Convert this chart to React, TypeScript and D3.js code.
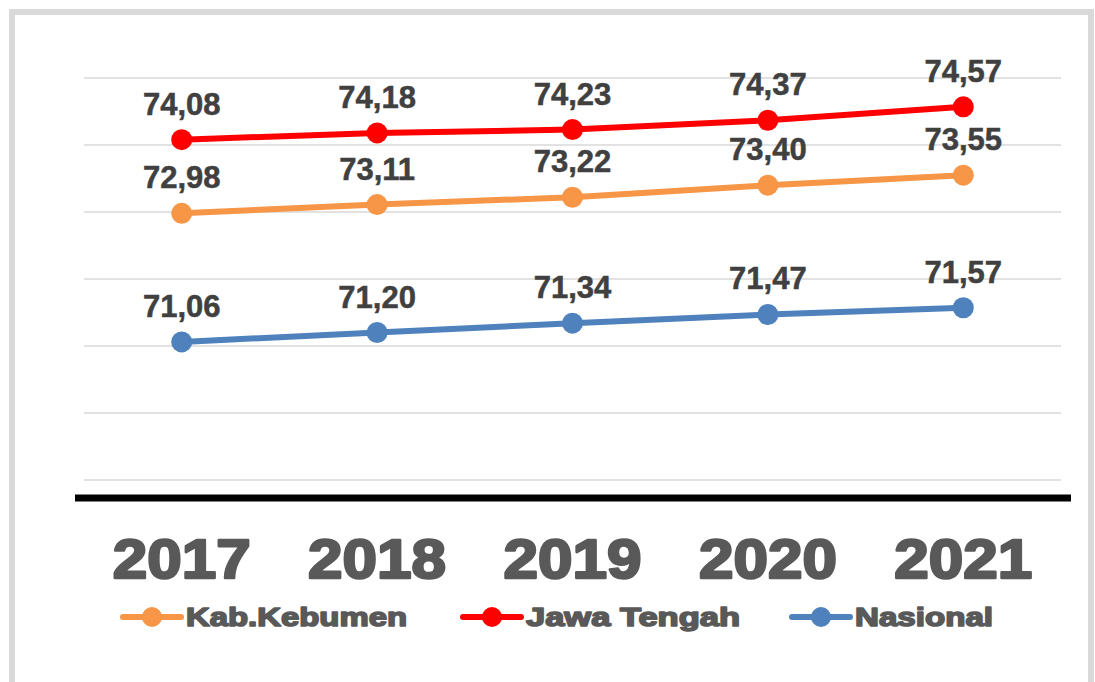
import React from 'react';
import * as d3 from 'd3';

const years = ['2017', '2018', '2019', '2020', '2021'];
const kebumen = [72.98, 73.11, 73.22, 73.4, 73.55];
const jateng = [74.08, 74.18, 74.23, 74.37, 74.57];
const nasional = [71.06, 71.2, 71.34, 71.47, 71.57];
const gridTicks = [69, 70, 71, 72, 73, 74, 75];

const series = [
  { name: 'Kab.Kebumen', values: kebumen, color: '#F79646' },
  { name: 'Jawa Tengah', values: jateng, color: '#FF0000' },
  { name: 'Nasional', values: nasional, color: '#4F81BD' },
];

const W = 1095;
const H = 682;
const plotLeft = 84;
const plotRight = 1061;

const App = () => {
  const x = d3.scaleBand().domain(years).range([plotLeft, plotRight]);
  const y = d3.scaleLinear().domain([68.73, 75]).range([498, 78]);
  const cx = (d: string) => (x(d) as number) + x.bandwidth() / 2;
  const line = d3
    .line<number>()
    .x((_, i) => cx(years[i]))
    .y((d) => y(d));

  const fmt = (v: number) => d3.format('.2f')(v).replace('.', ',');

  // legend layout: symbol start, text width
  const legend = [
    { sx: 123, tw: 221 },
    { sx: 463, tw: 214 },
    { sx: 792, tw: 138 },
  ];

  return (
    <svg
      width={W}
      height={H}
      style={{ position: 'absolute', left: 0, top: 0, background: '#fff' }}
      fontFamily="'Liberation Sans', Arial, sans-serif"
    >
      <rect x={12} y={12} width={1079} height={720} fill="#fff" stroke="#d9d9d9" strokeWidth={6} />

      {gridTicks.map((t) => (
        <line key={t} x1={plotLeft} x2={plotRight} y1={y(t)} y2={y(t)} stroke="#d9d9d9" strokeWidth={1.5} />
      ))}
      <line x1={75} x2={1071} y1={y(68.73)} y2={y(68.73)} stroke="#000" strokeWidth={7} />

      {years.map((yr) => (
        <text
          key={yr}
          x={cx(yr)}
          y={578}
          textAnchor="middle"
          fontSize={56}
          fontWeight="bold"
          fill="#595959"
          stroke="#595959"
          strokeWidth={2.5}
          strokeLinejoin="round"
          textLength={138}
          lengthAdjust="spacingAndGlyphs"
        >
          {yr}
        </text>
      ))}

      {series.map((s) => (
        <g key={s.name}>
          <path d={line(s.values) || ''} fill="none" stroke={s.color} strokeWidth={6} />
          {s.values.map((v, i) => (
            <circle key={i} cx={cx(years[i])} cy={y(v)} r={10.5} fill={s.color} />
          ))}
          {s.values.map((v, i) => (
            <text
              key={'l' + i}
              x={cx(years[i])}
              y={y(v) - 25}
              textAnchor="middle"
              fontSize={31}
              fontWeight="bold"
              fill="#404040"
              stroke="#404040"
              strokeWidth={0.5}
            >
              {fmt(v)}
            </text>
          ))}
        </g>
      ))}

      {series.map((s, i) => {
        const L = legend[i];
        return (
          <g key={'leg' + s.name}>
            <line x1={L.sx} x2={L.sx + 58} y1={617} y2={617} stroke={s.color} strokeWidth={6} strokeLinecap="round" />
            <circle cx={L.sx + 29} cy={617} r={10} fill={s.color} />
            <text
              x={L.sx + 63}
              y={626}
              fontSize={26}
              fontWeight="bold"
              fill="#595959"
              stroke="#595959"
              strokeWidth={1.6}
              strokeLinejoin="round"
              textLength={L.tw}
              lengthAdjust="spacingAndGlyphs"
            >
              {s.name}
            </text>
          </g>
        );
      })}
    </svg>
  );
};

export default App;
